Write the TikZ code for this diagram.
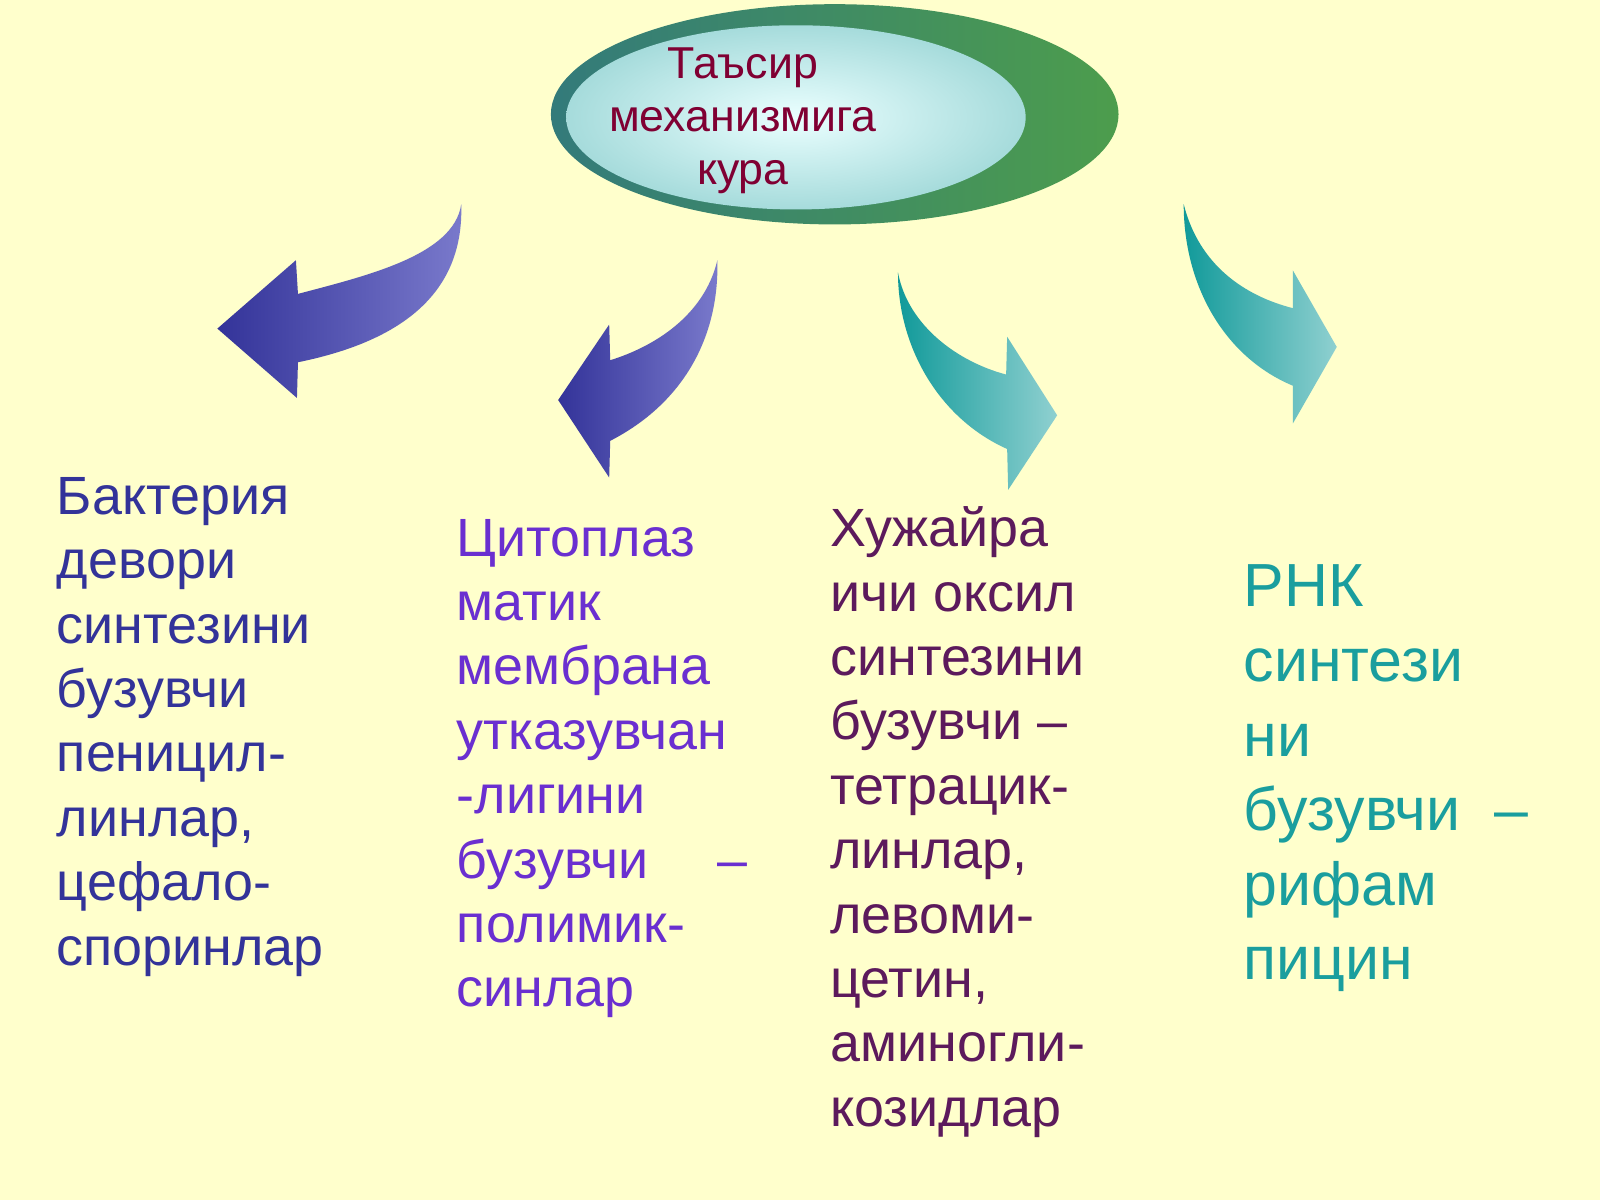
\documentclass[tikz,border=0pt]{standalone}
\usepackage{fontspec}
\setmainfont{Liberation Sans}
\usetikzlibrary{positioning,shapes.geometric}
\definecolor{bg}{HTML}{FFFFCC}
\definecolor{blueA}{HTML}{333399}
\definecolor{blueB}{HTML}{7A7ACC}
\definecolor{tealA}{HTML}{119A9A}
\definecolor{tealB}{HTML}{8FD0D0}
\definecolor{colI}{HTML}{333399}
\definecolor{colII}{HTML}{6A2FD0}
\definecolor{colIII}{HTML}{5C1A5C}
\definecolor{colIV}{HTML}{1A9E9E}
\definecolor{titlecol}{HTML}{800033}
\begin{document}
\begin{tikzpicture}[x=0.0102cm,y=-0.0102cm,
                    blue arrow/.style={left color=blueA,right color=blueB,draw=none},
                    teal arrow/.style={left color=tealA,right color=tealB,draw=none},
                    col text/.style={anchor=north west,inner sep=0pt,align=left,
                                     font=\fontsize{15.3}{18.3}\selectfont}
                   ]
  \fill[bg] (0,0) rectangle (1568,1176);
  \useasboundingbox (0,0) rectangle (1568,1176);
  % top ellipse
  \node[ellipse,minimum width=5.67cm,minimum height=2.2cm,left color=teal!70!black!80,
        right color=green!45!black!70,draw=none] (outer) at (818,112) {};
  \node[ellipse,minimum width=4.59cm,minimum height=1.84cm,inner color=cyan!8,
        outer color=cyan!20!teal!35,draw=none] (inner) at (780,115) {};
  \node[align=center,inner sep=0pt,text=titlecol,
        font=\fontsize{12.7}{15.1}\selectfont] (title) at (728,118)
       {Таъсир\\механизмига\\кура};
  % arrows
  \path[blue arrow] (452,200) .. controls (445,250) and (360,270) .. (292,288)
     -- (290,255) -- (213,322) -- (291,390) -- (292,355)
     .. controls (390,335) and (455,290) .. (452,200) -- cycle;
  \path[blue arrow] (703,255) .. controls (690,310) and (640,340) .. (598,353)
     -- (597,318) -- (547,392) -- (597,468) -- (598,432)
     .. controls (670,395) and (705,330) .. (703,255) -- cycle;
  \path[teal arrow] (880,267) .. controls (890,320) and (940,355) .. (986,367)
     -- (987,330) -- (1036,407) -- (988,480) -- (987,440)
     .. controls (920,410) and (880,340) .. (880,267) -- cycle;
  \path[teal arrow] (1160,200) .. controls (1175,260) and (1220,290) .. (1267,302)
     -- (1267,265) -- (1310,340) -- (1267,415) -- (1267,378)
     .. controls (1200,350) and (1160,280) .. (1160,200) -- cycle;
  % columns
  \node[col text,text=colI] (wall) at (55,467)
       {Бактерия\\девори\\синтезини\\бузувчи\\пеницил-\\линлар,\\цефало-\\споринлар};
  \node[col text,text=colII] (membr) at (447,508)
       {Цитоплаз\\матик\\мембрана\\утказувчан\\-лигини\\бузувчи\quad\ –\\полимик-\\синлар};
  \node[col text,text=colIII] (protein) at (813,496)
       {Хужайра\\ичи оксил\\синтезини\\бузувчи –\\тетрацик-\\линлар,\\левоми-\\цетин,\\аминогли-\\козидлар};
  \node[col text,text=colIV,font=\fontsize{17.3}{21.2}\selectfont] (rna) at (1218,553)
       {РНК\\синтези\\ни\\бузувчи\ \ –\\рифам\\пицин};
\end{tikzpicture}
\end{document}
